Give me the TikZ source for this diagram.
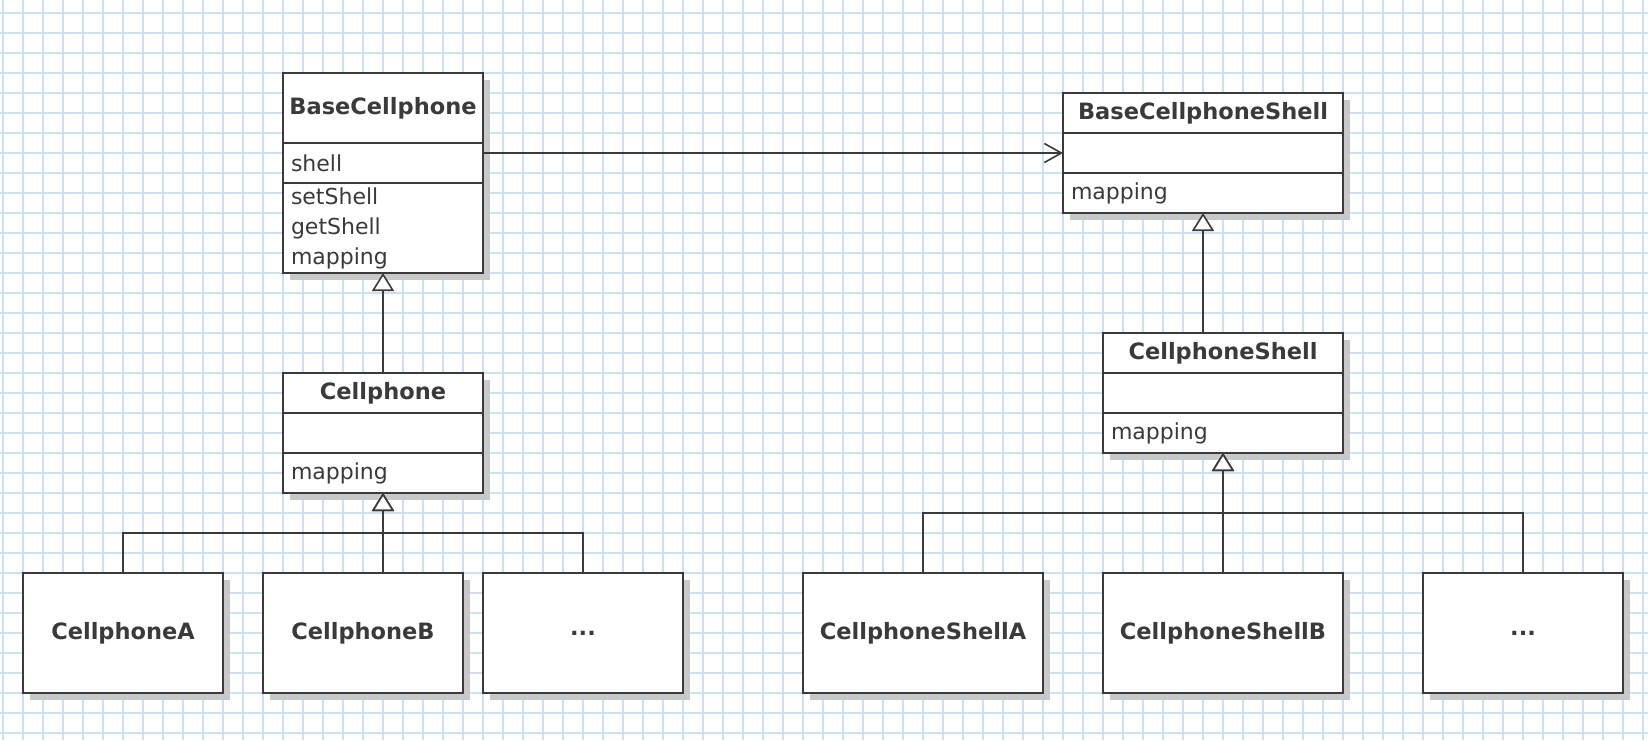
\documentclass[tikz,border=0pt]{standalone}
\usepackage{fontspec}
\setmainfont{DejaVu Sans}
\usetikzlibrary{positioning,shadows,arrows.meta}
\definecolor{gridblue}{RGB}{205,224,243}
\definecolor{umlgray}{RGB}{58,58,58}
\definecolor{shadowgray}{RGB}{200,200,200}

\begin{document}
\begin{tikzpicture}[
  x=1pt, y=-1pt,
  gridline/.style={draw=gridblue, line width=1.5pt},
  part/.style={rectangle, draw=umlgray, fill=white, line width=1.6pt, outer sep=0pt, text=umlgray,
    drop shadow={shadow xshift=7pt, shadow yshift=-7pt, fill=shadowgray, opacity=1}},
  cname/.style={part, font=\fontsize{22.5}{27}\selectfont\bfseries, inner sep=0pt},
  cbody/.style={part, font=\fontsize{22}{30}\selectfont, align=left, inner xsep=8pt, inner ysep=0pt},
  leaf/.style={cname, minimum width=#1, minimum height=120pt},
  gen/.style={draw=umlgray, line width=1.6pt, -{Triangle[width=22pt, length=18pt, fill=white]}},
  assoc/.style={draw=umlgray, line width=1.6pt, -{Straight Barb[width=19pt, length=17pt]}}
]
  \useasboundingbox (0,0) rectangle (1648,740);
  \fill[white] (0,0) rectangle (1648,740);
  % grid paper
  \foreach \gx in {3,23,...,1643} \draw[gridline] (\gx,0) -- (\gx,740);
  \foreach \gy in {13,33,...,733} \draw[gridline] (0,\gy) -- (1648,\gy);

  % left hierarchy
  \node[cname, minimum width=200pt, minimum height=70pt, anchor=north west] (bcell) at (283,73) {BaseCellphone};
  \node[cbody, text width=184pt, minimum height=40pt, below=0pt of bcell] (bcellattr) {shell};
  \node[cbody, text width=184pt, minimum height=90pt, below=0pt of bcellattr] (bcellops) {setShell\\getShell\\mapping};

  \node[cname, minimum width=200pt, minimum height=40pt, anchor=north west] (cell) at (283,373) {Cellphone};
  \node[cbody, text width=184pt, minimum height=40pt, below=0pt of cell] (cellattr) {};
  \node[cbody, text width=184pt, minimum height=40pt, below=0pt of cellattr] (cellops) {mapping};

  \node[leaf=200pt, anchor=north west] (ca) at (23,573) {CellphoneA};
  \node[leaf=200pt, anchor=north west] (cb) at (263,573) {CellphoneB};
  \node[leaf=200pt, anchor=north west] (cmore) at (483,573) {...};

  % right hierarchy
  \node[cname, minimum width=280pt, minimum height=40pt, anchor=north west] (bcs) at (1063,93) {BaseCellphoneShell};
  \node[cbody, text width=264pt, minimum height=40pt, below=0pt of bcs] (bcsattr) {};
  \node[cbody, text width=264pt, minimum height=40pt, below=0pt of bcsattr] (bcsops) {mapping};

  \node[cname, minimum width=240pt, minimum height=40pt, anchor=north west] (cshell) at (1103,333) {CellphoneShell};
  \node[cbody, text width=224pt, minimum height=40pt, below=0pt of cshell] (cshellattr) {};
  \node[cbody, text width=224pt, minimum height=40pt, below=0pt of cshellattr] (cshellops) {mapping};

  \node[leaf=240pt, anchor=north west] (csa) at (803,573) {CellphoneShellA};
  \node[leaf=240pt, anchor=north west] (csb) at (1103,573) {CellphoneShellB};
  \node[leaf=200pt, anchor=north west] (csmore) at (1423,573) {...};

  % connectors
  \draw[assoc] (bcsattr.west -| bcellattr.east) -- (bcsattr.west);
  \draw[gen] (cell.north) -- (bcellops.south);
  \draw[gen] (ca.north) -- ++(0,-40) -| (cellops.south);
  \draw[gen] (cb.north -| cellops.south) -- (cellops.south);
  \draw[gen] (cmore.north) -- ++(0,-40) -| (cellops.south);
  \draw[gen] (cshell.north -| bcsops.south) -- (bcsops.south);
  \draw[gen] (csa.north) -- ++(0,-60) -| (cshellops.south);
  \draw[gen] (csb.north) -- (cshellops.south);
  \draw[gen] (csmore.north) -- ++(0,-60) -| (cshellops.south);
\end{tikzpicture}
\end{document}
